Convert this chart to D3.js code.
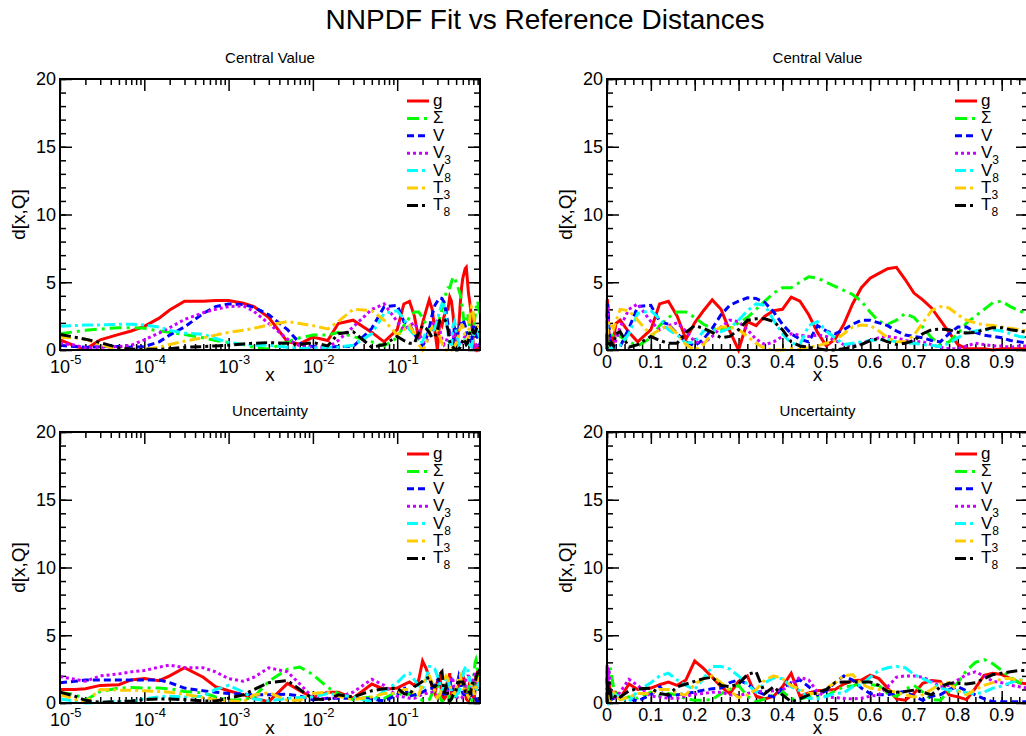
<!DOCTYPE html>
<html>
<meta charset="utf-8">
<head>
<script src="https://cdnjs.cloudflare.com/ajax/libs/d3/7.8.5/d3.min.js"></script>
</head>
<style>
body {
    margin: 0;
    background: #fff;
    font-family: "Liberation Sans", Arial, Helvetica, sans-serif;
}
text { fill: #000; }
.ticks line { stroke: #000; stroke-width: 1.5px; }
.frame { fill: none; stroke: #000; stroke-width: 2px; }
.curve { fill: none; stroke-width: 3px; }
</style>
<body>
<svg id="canvas" width="1026" height="736"></svg>
<script>
// x grid shared by every curve: log-spaced below 0.1, then steps of 0.02
const xGrid = [1e-5, 1.5e-5, 2e-5, 3e-5, 5e-5, 7e-5, 1e-4, 1.5e-4, 2e-4, 3e-4, 5e-4, 7e-4,
               1e-3, 1.5e-3, 2e-3, 3e-3, 5e-3, 7e-3, 1e-2, 1.5e-2, 2e-2, 3e-2, 5e-2, 7e-2,
               0.10, 0.12, 0.14, 0.16, 0.18, 0.20, 0.22, 0.24, 0.26, 0.28, 0.30, 0.32, 0.34, 0.36,
               0.38, 0.40, 0.42, 0.44, 0.46, 0.48, 0.50, 0.52, 0.54, 0.56, 0.58, 0.60, 0.62, 0.64,
               0.66, 0.68, 0.70, 0.72, 0.74, 0.76, 0.78, 0.80, 0.82, 0.84, 0.86, 0.88, 0.90, 0.92,
               0.94, 0.96];

// Central value distances
const cvG     = [0.75, 0.3, 0.05, 0.75, 1.15, 1.4, 1.75, 2.35, 2.95, 3.6, 3.6, 3.65, 3.65, 3.45, 3.2, 2.4, 0.6, 0.45, 0.95, 0.7, 1.95, 2.2, 1.3, 0.6,
                 1.5, 3.4, 3.6, 2.5, 0.8, 2.0, 2.9, 3.7, 3.0, 1.4, 0.0, 2.1, 1.8, 2.5, 2.9, 3.0, 3.9, 3.6, 2.6, 1.3,
                 0.3, 0.8, 1.9, 3.4, 4.6, 5.3, 5.65, 6.0, 6.1, 5.2, 4.2, 3.7, 3.1, 2.2, 1.3, 0.4, 0.1, 0.1, 0.1, 0.0, 0.1, 0.1, 0.1, 0.1];
const cvSigma = [1.2, 1.35, 1.45, 1.55, 1.65, 1.65, 1.6, 1.4, 1.3, 1.15, 0.9, 0.7, 0.55, 0.4, 0.2, 0.05, 0.6, 0.9, 1.1, 1.1, 1.3, 1.0, 0.6, 0.3,
                 0.9, 1.8, 2.4, 2.8, 2.8, 2.4, 1.9, 1.6, 1.5, 1.6, 2.0, 2.4, 3.0, 3.6, 4.2, 4.6, 4.6, 5.0, 5.4, 5.3,
                 5.0, 4.7, 4.4, 4.1, 3.6, 2.8, 2.1, 1.9, 2.2, 2.7, 2.4, 1.7, 0.9, 0.4, 0.6, 1.2, 2.0, 2.5, 3.0, 3.5, 3.6, 3.2, 2.9, 2.6];
const cvV     = [0.35, 0.25, 0.2, 0.25, 0.25, 0.2, 0.25, 0.6, 1.1, 1.7, 2.7, 3.2, 3.4, 3.35, 3.15, 2.6, 1.5, 0.5, 0.25, 0.2, 0.25, 0.25, 1.6, 3.2,
                 3.3, 2.1, 1.9, 1.2, 0.6, 0.3, 0.8, 1.6, 2.6, 3.3, 3.6, 3.85, 3.8, 3.5, 2.8, 1.9, 1.2, 0.8, 0.6, 1.8,
                 1.4, 1.2, 1.5, 1.9, 2.2, 2.2, 2.0, 1.8, 1.4, 1.1, 1.0, 0.9, 0.7, 0.6, 1.2, 1.7, 1.7, 1.3, 1.1, 1.0, 0.9, 0.7, 0.6, 0.5];
const cvV3    = [0.5, 0.35, 0.15, 0.2, 0.25, 0.35, 0.75, 1.25, 1.65, 2.25, 2.75, 3.0, 3.2, 3.25, 2.85, 1.95, 0.8, 0.3, 0.2, 0.2, 0.7, 1.7, 3.0, 3.4,
                 2.1, 1.5, 1.8, 2.0, 1.4, 0.6, 0.5, 1.0, 1.7, 2.2, 2.1, 1.5, 0.8, 0.4, 0.6, 1.0, 1.2, 1.1, 1.0, 1.1,
                 1.0, 0.7, 0.4, 0.3, 0.5, 0.7, 0.9, 1.0, 0.9, 0.7, 0.6, 0.6, 0.4, 0.2, 0.1, 0.1, 0.3, 0.5, 0.4, 0.3, 0.3, 0.2, 0.3, 0.3];
const cvV8    = [1.75, 1.8, 1.85, 1.85, 1.9, 1.9, 1.85, 1.7, 1.45, 1.25, 1.15, 0.85, 0.55, 0.4, 0.35, 0.35, 0.2, 0.1, 0.15, 0.2, 0.2, 0.35, 1.2, 2.7,
                 2.9, 2.3, 1.5, 1.1, 0.5, 0.6, 1.4, 1.5, 1.35, 1.6, 2.2, 2.9, 3.4, 3.3, 2.2, 1.2, 0.5, 0.4, 1.8, 2.1,
                 1.4, 0.9, 0.4, 0.5, 0.6, 0.7, 0.75, 0.75, 0.6, 0.5, 0.5, 0.4, 0.35, 0.25, 0.5, 0.9, 1.3, 1.4, 1.5, 1.5, 1.4, 1.2, 1.0, 0.9];
const cvT3    = [0.95, 0.9, 0.8, 0.4, 0.05, 0.05, 0.05, 0.2, 0.4, 0.65, 0.9, 1.1, 1.3, 1.45, 1.6, 1.85, 2.1, 1.95, 1.8, 1.55, 2.1, 3.0, 2.9, 2.2,
                 1.1, 1.5, 1.8, 1.2, 0.4, 0.0, 0.4, 1.3, 1.7, 1.7, 1.5, 1.0, 0.5, 0.1, 0.0, 0.0, 0.1, 0.0, 0.2, 0.3,
                 0.5, 0.7, 1.2, 1.7, 1.85, 1.8, 1.4, 0.9, 0.6, 0.6, 1.1, 2.0, 2.9, 3.2, 3.1, 2.6, 2.2, 2.0, 1.85, 1.8, 1.7, 1.6, 1.5, 1.4];
const cvT8    = [1.15, 0.95, 0.8, 0.55, 0.15, 0.05, 0.05, 0.05, 0.1, 0.2, 0.25, 0.3, 0.35, 0.45, 0.5, 0.55, 0.5, 0.4, 0.55, 0.3, 1.2, 1.35, 0.2, 0.4,
                 1.0, 0.7, 0.5, 0.5, 1.3, 1.8, 1.6, 1.3, 0.9, 1.0, 1.5, 2.2, 2.3, 2.3, 2.1, 1.5, 0.6, 0.3, 0.2, 0.1,
                 0.0, 0.0, 0.1, 0.2, 0.4, 0.7, 0.85, 0.6, 0.4, 0.5, 0.7, 1.2, 1.5, 1.55, 1.5, 1.3, 1.25, 1.3, 1.5, 1.65, 1.65, 1.5, 1.4, 1.3];

// Uncertainty distances
const uncG     = [1.0, 1.0, 1.05, 1.3, 1.35, 1.7, 1.8, 1.65, 2.0, 2.6, 1.9, 1.2, 0.9, 0.6, 0.35, 0.1, 1.45, 0.9, 0.4, 0.8, 0.8, 0.35, 1.4, 1.0,
                  1.1, 1.35, 1.55, 1.3, 1.7, 3.1, 2.55, 1.9, 1.2, 0.7, 1.6, 2.0, 0.5, 0.3, 0.5, 1.2, 2.2, 0.5, 0.75, 0.9,
                  0.95, 1.0, 1.4, 1.65, 1.7, 2.05, 1.8, 1.1, 0.3, 0.2, 0.7, 1.45, 1.65, 1.6, 0.6, 0.45, 0.25, 1.1, 2.05, 2.2, 2.1, 1.8, 1.5, 1.4];
const uncSigma = [0.75, 0.65, 0.2, 0.85, 1.1, 1.15, 1.1, 1.1, 1.05, 0.85, 0.75, 0.45, 0.2, 0.25, 0.45, 1.6, 2.5, 2.65, 2.1, 1.15, 0.7, 0.25, 0.45, 0.35,
                  0.8, 0.5, 0.7, 0.6, 0.3, 0.2, 0.2, 0.25, 0.7, 1.0, 1.3, 0.5, 0.1, 0.3, 0.6, 0.85, 0.3, 0.3, 0.45, 0.5,
                  0.5, 0.9, 1.2, 1.25, 1.5, 1.35, 1.3, 0.7, 0.5, 1.0, 1.3, 0.8, 0.25, 0.2, 0.9, 1.5, 2.4, 3.0, 3.2, 2.9, 2.4, 1.9, 1.5, 1.3];
const uncV     = [1.5, 1.6, 1.7, 1.7, 1.7, 1.7, 1.7, 1.7, 1.5, 1.1, 0.9, 0.8, 0.7, 0.65, 0.6, 0.6, 0.65, 0.5, 0.25, 0.35, 0.35, 0.35, 0.3, 0.15,
                  0.6, 1.2, 0.5, 0.6, 0.7, 0.8, 0.95, 1.05, 1.1, 1.5, 1.7, 1.4, 0.9, 0.6, 0.45, 1.1, 1.5, 1.7, 1.2, 0.6,
                  0.9, 1.5, 2.0, 1.7, 1.1, 0.7, 0.6, 0.6, 0.75, 0.85, 0.5, 0.2, 0.5, 0.6, 1.0, 1.2, 0.9, 0.6, 0.3, 0.1, 0.1, 0.1, 0.1, 0.1];
const uncV3    = [1.95, 1.75, 1.6, 2.0, 2.15, 2.3, 2.4, 2.65, 2.8, 2.6, 2.6, 2.3, 1.8, 1.6, 1.9, 2.6, 2.3, 1.4, 0.4, 0.3, 0.45, 0.8, 1.75, 1.3,
                  0.5, 0.45, 0.35, 0.35, 0.5, 0.65, 0.7, 0.8, 0.8, 0.6, 0.55, 0.7, 0.85, 0.85, 0.9, 0.95, 1.4, 1.9, 1.7, 0.8,
                  0.45, 0.4, 0.35, 0.3, 0.35, 0.5, 0.6, 1.2, 1.9, 2.0, 2.0, 1.9, 1.6, 1.2, 1.3, 1.7, 2.1, 2.3, 2.0, 1.6, 1.5, 1.3, 1.2, 1.1];
const uncV8    = [0.3, 0.15, 0.0, 0.05, 0.1, 0.15, 0.3, 0.45, 0.5, 0.45, 0.5, 1.0, 1.3, 0.8, 0.3, 0.15, 0.35, 0.4, 0.45, 0.7, 0.6, 0.45, 0.1, 0.9,
                  1.5, 2.0, 2.2, 1.7, 1.3, 1.0, 1.8, 2.7, 2.7, 2.5, 2.0, 1.4, 0.8, 1.5, 1.85, 1.8, 1.2, 0.9, 0.35, 0.3,
                  0.5, 0.7, 0.75, 1.2, 1.35, 1.9, 2.4, 2.6, 2.7, 2.6, 2.1, 1.8, 1.5, 1.1, 0.95, 0.9, 0.75, 0.7, 0.8, 1.1, 1.25, 1.5, 1.7, 1.7];
const uncT3    = [0.6, 0.3, 0.05, 1.0, 0.95, 0.95, 0.9, 0.85, 0.8, 0.65, 0.4, 0.25, 0.15, 0.1, 0.6, 0.75, 0.2, 0.2, 0.7, 0.8, 0.5, 0.25, 0.45, 0.7,
                  0.7, 1.0, 1.0, 0.7, 0.6, 1.4, 1.8, 2.0, 1.5, 0.9, 0.4, 0.6, 1.0, 1.7, 2.0, 1.8, 1.3, 1.0, 0.7, 0.7,
                  1.1, 1.5, 2.0, 2.1, 1.4, 1.1, 1.0, 0.9, 0.8, 0.6, 0.45, 0.6, 1.0, 1.4, 1.5, 0.9, 0.6, 1.0, 1.3, 1.5, 1.8, 1.8, 1.7, 1.6];
const uncT8    = [0.8, 0.5, 0.2, 0.05, 0.1, 0.15, 0.25, 0.3, 0.3, 0.25, 0.15, 0.15, 0.35, 0.6, 1.0, 1.5, 1.65, 1.0, 0.3, 0.25, 0.6, 0.45, 0.9, 1.05,
                  1.1, 0.7, 0.6, 1.2, 1.4, 1.6, 1.8, 1.9, 1.3, 1.2, 1.4, 2.1, 2.3, 0.7, 1.2, 0.6, 0.1, 0.3, 0.6, 0.75,
                  1.0, 1.5, 1.55, 1.55, 1.55, 1.55, 1.3, 0.85, 0.8, 0.85, 0.95, 0.8, 0.6, 1.2, 1.45, 1.45, 1.4, 1.5, 1.8, 2.1, 2.2, 2.3, 2.4, 2.4];

// legend labels (base letter + subscript)
const legendBase = ["g", "Σ", "V", "V", "V", "T", "T"];
const legendSub  = ["", "", "", "3", "8", "3", "8"];

// tick labels
const logTicks = [1e-5, 1e-4, 1e-3, 1e-2, 1e-1];
const logTickExp = ["-5", "-4", "-3", "-2", "-1"];
const linTicks = [0, 0.1, 0.2, 0.3, 0.4, 0.5, 0.6, 0.7, 0.8, 0.9];
const linTickLabels = ["0", "0.1", "0.2", "0.3", "0.4", "0.5", "0.6", "0.7", "0.8", "0.9"];
const yTicks = [0, 5, 10, 15, 20];

const rows = [
    {title: "Central Value", series: [cvG, cvSigma, cvV, cvV3, cvV8, cvT3, cvT8]},
    {title: "Uncertainty",   series: [uncG, uncSigma, uncV, uncV3, uncV8, uncT3, uncT8]}
];

// styles
const colors = ["#ff0000", "#00ff00", "#0000ff", "#cc00ff", "#00ffff", "#ffcc00", "#000000"];
const dashes = [null, "12,5,3,5", "7,4", "3,3", "11,4,3,4", "11,4,3,4", "11,4,3,4"];

const colX = [60, 607], colW = [420, 421], rowY = [79, 432], plotH = 271;
const xMax = 0.96;

const svg = d3.select("#canvas");

svg.append("text")
   .attr("x", 545).attr("y", 29)
   .attr("text-anchor", "middle")
   .style("font-size", "28px")
   .text("NNPDF Fit vs Reference Distances");

rows.forEach((row, ri) => {
    [true, false].forEach((isLog, ci) => {
        const w = colW[ci];
        const g = svg.append("g").attr("transform", `translate(${colX[ci]},${rowY[ri]})`);

        const x = isLog ? d3.scaleLog().domain([1e-5, xMax]).range([0, w])
                        : d3.scaleLinear().domain([0, xMax]).range([0, w]);
        const y = d3.scaleLinear().domain([0, 20]).range([plotH, 0]);

        const xMinor = isLog
            ? d3.merge(logTicks.map(t => d3.range(2, 10).map(k => k * t))).filter(v => v <= xMax)
            : d3.range(0, xMax + 0.001, 0.02);
        const xMajor = isLog ? logTicks : linTicks;
        const yMinor = d3.range(0, 21);

        // inward ticks on all four sides
        const sides = [
            [d3.axisBottom, x, `translate(0,${plotH})`, xMajor, xMinor],
            [d3.axisTop,    x, null,                    xMajor, xMinor],
            [d3.axisLeft,   y, null,                    yTicks, yMinor],
            [d3.axisRight,  y, `translate(${w},0)`,     yTicks, yMinor]
        ];
        sides.forEach(([axisFn, scale, tr, major, minor]) => {
            [[major, 12], [minor, 6]].forEach(([vals, size]) => {
                g.append("g").attr("class", "ticks")
                 .attr("transform", tr)
                 .call(axisFn(scale).tickValues(vals).tickSize(-size).tickSizeOuter(0).tickFormat(""))
                 .call(s => s.select(".domain").remove());
            });
        });

        // curves
        const line = d3.line().x(d => x(d[0])).y(d => y(d[1]));
        row.series.forEach((vals, si) => {
            g.append("path")
             .attr("class", "curve")
             .datum(xGrid.map((xv, i) => [xv, vals[i]]))
             .attr("stroke", colors[si])
             .attr("stroke-dasharray", dashes[si])
             .attr("d", line);
        });

        g.append("rect").attr("class", "frame").attr("width", w).attr("height", plotH);

        // y tick labels
        g.selectAll(".ylab").data(yTicks).enter().append("text")
         .attr("x", -4).attr("y", d => y(d)).attr("dy", "0.35em")
         .attr("text-anchor", "end").style("font-size", "18px")
         .text(d => d);

        // x tick labels
        if (isLog) {
            logTicks.forEach((t, i) => {
                g.append("text").attr("x", x(t)).attr("y", plotH + 23)
                 .attr("text-anchor", "middle").style("font-size", "18px").text("10");
                g.append("text").attr("x", x(t) + 10).attr("y", plotH + 14)
                 .style("font-size", "13px").text(logTickExp[i]);
            });
        } else {
            linTicks.forEach((t, i) => {
                g.append("text").attr("x", x(t)).attr("y", plotH + 18)
                 .attr("text-anchor", "middle").style("font-size", "18px").text(linTickLabels[i]);
            });
        }

        // axis titles
        g.append("text").attr("x", w / 2).attr("y", plotH + 31)
         .attr("text-anchor", "middle").style("font-size", "19px").text("x");
        g.append("text")
         .attr("transform", `translate(-35,${plotH / 2}) rotate(-90)`)
         .attr("text-anchor", "middle").style("font-size", "19px").text("d[x,Q]");
        g.append("text").attr("x", w / 2).attr("y", -16)
         .attr("text-anchor", "middle").style("font-size", "15px").text(row.title);

        // legend
        const lg = g.append("g").attr("transform", `translate(${w - 73},22)`);
        legendBase.forEach((name, i) => {
            const yy = i * 17.4;
            lg.append("line").attr("x1", 0).attr("x2", 22).attr("y1", yy).attr("y2", yy)
              .attr("stroke", colors[i]).attr("stroke-width", 3)
              .attr("stroke-dasharray", dashes[i]);
            const t = lg.append("text").attr("x", 26).attr("y", yy + 5)
                        .style("font-size", "17px").text(name);
            if (legendSub[i]) {
                t.append("tspan").attr("dy", 6).style("font-size", "12px").text(legendSub[i]);
            }
        });
    });
});
</script>
</body>
</html>
